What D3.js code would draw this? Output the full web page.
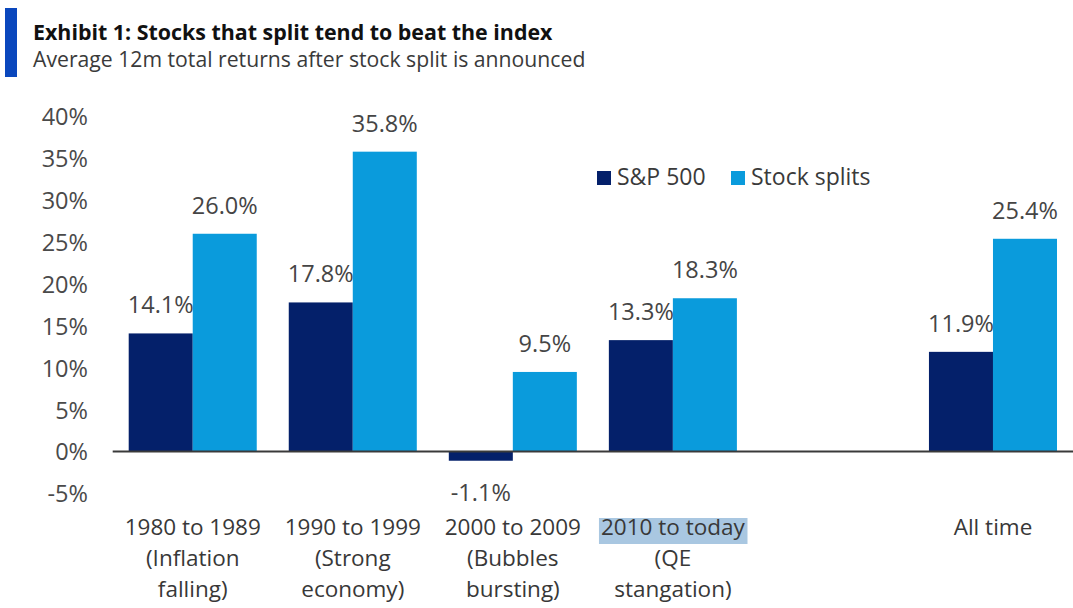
<!DOCTYPE html>
<html>
<head>
<meta charset="utf-8">
<script src="https://cdn.jsdelivr.net/npm/d3@7"></script>
<style>
  html, body { margin: 0; padding: 0; background: #ffffff; }
  svg { display: block; }
  text { font-family: "Open Sans", "Noto Sans", sans-serif; fill: #404040; }
</style>
</head>
<body>
<svg id="chart" width="1073" height="608"></svg>
<script>
// Periods shown on the x axis, with their explanatory second/third lines
const periods = ["1980 to 1989", "1990 to 1999", "2000 to 2009", "2010 to today", "All time"];
const periodNotes = [["(Inflation", "falling)"], ["(Strong", "economy)"], ["(Bubbles", "bursting)"], ["(QE", "stangation)"], []];

// Average 12m total returns (%)
const sp500 = [14.1, 17.8, -1.1, 13.3, 11.9];
const stockSplits = [26.0, 35.8, 9.5, 18.3, 25.4];

// Y axis ticks (%)
const yTicks = [-5, 0, 5, 10, 15, 20, 25, 30, 35, 40];

const seriesNames = ["S&P 500", "Stock splits"];
const seriesColors = ["#04206a", "#0a9bdc"];
const highlighted = "2010 to today";

const svg = d3.select("#chart");

// Title block
svg.append("rect").attr("x", 5).attr("y", 8).attr("width", 12).attr("height", 69).attr("fill", "#0a47bd");
svg.append("text").attr("x", 33).attr("y", 40)
  .style("font-weight", "bold").style("font-size", "21.4px").style("fill", "#111")
  .text("Exhibit 1: Stocks that split tend to beat the index");
svg.append("text").attr("x", 33).attr("y", 67)
  .style("font-size", "21.2px").style("fill", "#3a3a3a")
  .text("Average 12m total returns after stock split is announced");

// Scales: an empty slot sits between the decades and "All time"
const domain = [...periods.slice(0, 4), "__gap__", periods[4]];
const x = d3.scaleBand().domain(domain).range([112.7, 1073]).paddingInner(0.2).paddingOuter(0.1);
const xs = d3.scaleBand().domain(seriesNames).range([0, x.bandwidth()]);
const y = d3.scaleLinear().domain([-5, 40]).range([493.4, 116.5]);

// Y axis labels
const yAxis = svg.append("g").attr("transform", "translate(88,0)")
  .call(d3.axisLeft(y).tickValues(yTicks).tickSize(0).tickPadding(0).tickFormat(d => d + "%"));
yAxis.select(".domain").remove();
yAxis.selectAll("text").style("font-size", "23.5px").style("fill", "#4a4a4a")
  .attr("dy", "0.36em");

// Bars
const rows = periods.map((p, i) => ({ period: p, values: [sp500[i], stockSplits[i]] }));
const groups = svg.append("g").selectAll("g").data(rows).join("g")
  .attr("transform", d => `translate(${x(d.period)},0)`);

groups.selectAll("rect").data(d => d.values.map((v, j) => ({ v, name: seriesNames[j], color: seriesColors[j] })))
  .join("rect")
  .attr("x", d => xs(d.name))
  .attr("width", xs.bandwidth())
  .attr("y", d => y(Math.max(0, d.v)))
  .attr("height", d => Math.abs(y(d.v) - y(0)))
  .attr("fill", d => d.color);

// Value labels
groups.selectAll("text.value").data(d => d.values.map((v, j) => ({ v, name: seriesNames[j] })))
  .join("text").attr("class", "value")
  .attr("x", d => xs(d.name) + xs.bandwidth() / 2)
  .attr("y", d => d.v >= 0 ? y(d.v) - 20 : y(d.v) + 40)
  .attr("text-anchor", "middle")
  .style("font-size", "23.5px").style("fill", "#454545")
  .text(d => d.v.toFixed(1) + "%");

// Zero line
svg.append("line")
  .attr("x1", x.range()[0]).attr("x2", x.range()[1])
  .attr("y1", y(0)).attr("y2", y(0))
  .attr("stroke", "#3a3a3a").attr("stroke-width", 2);

// Category labels
const cat = svg.append("g").selectAll("g").data(rows.map((r, i) => ({ period: r.period, lines: [r.period, ...periodNotes[i]] })))
  .join("g")
  .attr("transform", d => `translate(${x(d.period) + x.bandwidth() / 2},0)`);

cat.each(function (d) {
  const g = d3.select(this);
  if (d.period === highlighted) {
    // highlight box behind the first line
    const probe = g.append("text").attr("text-anchor", "middle").attr("y", 535)
      .style("font-size", "22.5px").text(d.lines[0]);
    const bb = probe.node().getBBox();
    probe.remove();
    g.append("rect").attr("x", bb.x - 2).attr("y", 518).attr("width", bb.width + 4).attr("height", 26)
      .attr("fill", "#a9c7e1");
  }
  d.lines.forEach((line, k) => {
    g.append("text").attr("text-anchor", "middle").attr("y", 535 + k * 31)
      .style("font-size", "22.5px").style("fill", "#383838").text(line);
  });
});

// Legend
const legend = svg.append("g").attr("transform", "translate(597,171)");
const legendX = [0, 134];
seriesNames.forEach((name, i) => {
  const item = legend.append("g").attr("transform", `translate(${legendX[i]},0)`);
  item.append("rect").attr("width", 14).attr("height", 14).attr("fill", seriesColors[i]);
  item.append("text").attr("x", 20).attr("y", 14).style("font-size", "23px").style("fill", "#3a3a3a").text(name);
});
</script>
</body>
</html>
